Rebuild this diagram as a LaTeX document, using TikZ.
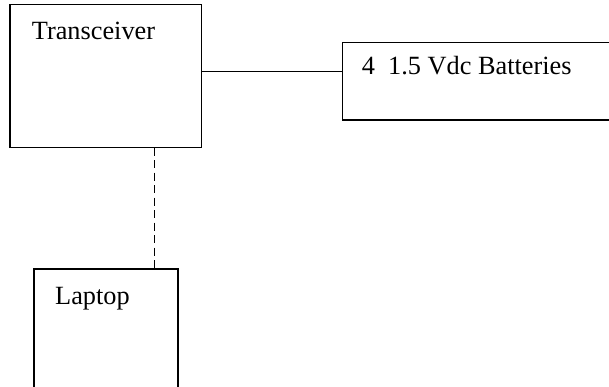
\documentclass[tikz,border=0pt]{standalone}
\usepackage{fontspec}
\setmainfont{Liberation Serif}
\begin{document}
\begin{tikzpicture}[x=1pt,y=-1pt,
  boxnode/.style={draw,rectangle,line width=1.4pt,inner sep=0pt,outer sep=0pt},
  lbl/.style={anchor=base west,inner sep=0pt,font=\fontsize{26.3}{30}\selectfont},
  conn/.style={line width=1.4pt},
  dconn/.style={line width=1.4pt,dash pattern=on 8pt off 4.5pt}]
\useasboundingbox (0,0) rectangle (609,387);
\clip (0,0) rectangle (609,387);
\node[boxnode,minimum width=191.5pt,minimum height=143.2pt] (trx) at (105.75,76.1) {};
\node[boxnode,minimum width=290pt,minimum height=77.7pt] (bat) at (487.3,81.15) {};
\node[boxnode,minimum width=144pt,minimum height=140pt] (lap) at (106,339) {};
\node[lbl] (ttrx) at (31.7,40) {Transceiver};
\node[lbl] (tbat) at (361.7,75) {4\ \ 1.5 Vdc Batteries};
\node[lbl] (tlap) at (55,304) {Laptop};
\coordinate (l1) at (0,71.7);
\coordinate (d1) at (154.3,0);
\draw[conn] (trx.east |- l1) -- (bat.west |- l1);
\draw[dconn] (trx.south -| d1) -- (lap.north -| d1);
\end{tikzpicture}
\end{document}
